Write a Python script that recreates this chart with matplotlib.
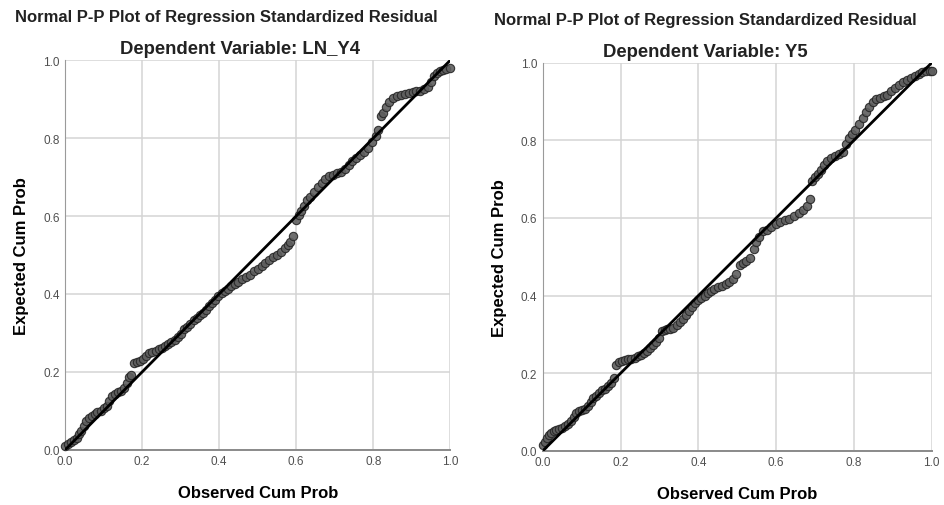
import matplotlib.pyplot as plt

plt.rcParams['font.family'] = ['Liberation Sans', 'DejaVu Sans']

# P-P plot values (observed, expected)
obs_y4 = [0.000, 0.008, 0.015, 0.022, 0.030, 0.036, 0.042, 0.048, 0.055, 0.062,
          0.070, 0.077, 0.084, 0.092, 0.100, 0.108, 0.115, 0.122, 0.130, 0.138,
          0.146, 0.153, 0.160, 0.165, 0.172, 0.178, 0.186, 0.194, 0.202, 0.210,
          0.218, 0.226, 0.235, 0.244, 0.252, 0.260, 0.268, 0.276, 0.284, 0.292,
          0.300, 0.308, 0.316, 0.325, 0.334, 0.342, 0.350, 0.358, 0.366, 0.374,
          0.382, 0.390, 0.398, 0.406, 0.414, 0.422, 0.430, 0.440, 0.450, 0.460,
          0.470, 0.480, 0.490, 0.500, 0.510, 0.520, 0.530, 0.540, 0.550, 0.560,
          0.570, 0.578, 0.585, 0.592, 0.600, 0.606, 0.612, 0.620, 0.628, 0.636,
          0.646, 0.656, 0.666, 0.676, 0.686, 0.696, 0.706, 0.716, 0.726, 0.736,
          0.746, 0.756, 0.766, 0.776, 0.786, 0.796, 0.806, 0.812, 0.820, 0.826,
          0.834, 0.842, 0.852, 0.862, 0.872, 0.882, 0.892, 0.902, 0.912, 0.922,
          0.932, 0.942, 0.950, 0.958, 0.966, 0.974, 0.982, 0.990, 1.000]
exp_y4 = [0.010, 0.015, 0.020, 0.025, 0.030, 0.040, 0.048, 0.060, 0.075, 0.082,
          0.088, 0.092, 0.097, 0.100, 0.108, 0.112, 0.125, 0.137, 0.143, 0.148,
          0.152, 0.160, 0.172, 0.188, 0.192, 0.222, 0.226, 0.228, 0.232, 0.240,
          0.248, 0.250, 0.253, 0.258, 0.262, 0.266, 0.272, 0.277, 0.282, 0.290,
          0.297, 0.310, 0.316, 0.324, 0.332, 0.338, 0.345, 0.352, 0.360, 0.368,
          0.376, 0.385, 0.395, 0.402, 0.408, 0.414, 0.420, 0.425, 0.430, 0.438,
          0.443, 0.448, 0.458, 0.465, 0.472, 0.480, 0.488, 0.494, 0.500, 0.508,
          0.518, 0.526, 0.534, 0.548, 0.590, 0.602, 0.614, 0.626, 0.640, 0.650,
          0.662, 0.674, 0.684, 0.694, 0.702, 0.706, 0.710, 0.714, 0.722, 0.732,
          0.742, 0.750, 0.758, 0.765, 0.775, 0.790, 0.805, 0.822, 0.858, 0.864,
          0.880, 0.894, 0.902, 0.908, 0.912, 0.914, 0.916, 0.918, 0.920, 0.922,
          0.926, 0.932, 0.945, 0.960, 0.968, 0.972, 0.975, 0.977, 0.980]

obs_y5 = [0.000, 0.005, 0.010, 0.016, 0.022, 0.028, 0.035, 0.042, 0.050, 0.058,
          0.065, 0.072, 0.080, 0.086, 0.093, 0.100, 0.108, 0.116, 0.124, 0.130,
          0.137, 0.144, 0.152, 0.160, 0.168, 0.175, 0.182, 0.188, 0.195, 0.203,
          0.212, 0.220, 0.228, 0.236, 0.244, 0.252, 0.260, 0.268, 0.276, 0.284,
          0.292, 0.300, 0.306, 0.313, 0.320, 0.328, 0.336, 0.344, 0.352, 0.360,
          0.368, 0.376, 0.384, 0.392, 0.400, 0.408, 0.416, 0.424, 0.432, 0.440,
          0.450, 0.460, 0.470, 0.480, 0.490, 0.498, 0.506, 0.514, 0.522, 0.532,
          0.542, 0.549, 0.556, 0.566, 0.576, 0.588, 0.600, 0.610, 0.622, 0.634,
          0.646, 0.658, 0.670, 0.680, 0.686, 0.692, 0.700, 0.708, 0.716, 0.724,
          0.732, 0.742, 0.752, 0.762, 0.772, 0.780, 0.788, 0.796, 0.804, 0.814,
          0.824, 0.832, 0.840, 0.848, 0.856, 0.866, 0.876, 0.886, 0.896, 0.906,
          0.916, 0.926, 0.936, 0.946, 0.956, 0.966, 0.976, 0.986, 0.995, 1.000]
exp_y5 = [0.014, 0.022, 0.032, 0.040, 0.046, 0.050, 0.054, 0.057, 0.060, 0.064,
          0.070, 0.078, 0.086, 0.098, 0.103, 0.105, 0.108, 0.115, 0.126, 0.135,
          0.142, 0.150, 0.156, 0.160, 0.166, 0.176, 0.188, 0.222, 0.228, 0.232,
          0.234, 0.236, 0.237, 0.240, 0.244, 0.248, 0.252, 0.258, 0.265, 0.272,
          0.280, 0.290, 0.308, 0.312, 0.313, 0.314, 0.316, 0.324, 0.332, 0.340,
          0.350, 0.360, 0.370, 0.380, 0.388, 0.394, 0.400, 0.406, 0.412, 0.418,
          0.422, 0.426, 0.430, 0.436, 0.443, 0.455, 0.478, 0.484, 0.490, 0.496,
          0.520, 0.538, 0.552, 0.566, 0.570, 0.578, 0.585, 0.590, 0.594, 0.598,
          0.604, 0.612, 0.620, 0.630, 0.650, 0.696, 0.705, 0.714, 0.724, 0.736,
          0.746, 0.754, 0.760, 0.764, 0.770, 0.790, 0.806, 0.816, 0.828, 0.842,
          0.858, 0.874, 0.886, 0.898, 0.906, 0.910, 0.914, 0.918, 0.926, 0.934,
          0.942, 0.950, 0.956, 0.962, 0.966, 0.972, 0.977, 0.980, 0.978, 0.980]

ticks = [0.0, 0.2, 0.4, 0.6, 0.8, 1.0]
tick_labels = ['0.0', '0.2', '0.4', '0.6', '0.8', '1.0']

title = 'Normal P-P Plot of Regression Standardized Residual'

# subtitle, data, axes rect, (title x, subtitle x), (title y, subtitle y)
panels = [
    ('Dependent Variable: LN_Y4', obs_y4, exp_y4, [0.069, 0.109, 0.408, 0.770],
     (0.240, 0.254), (0.966, 0.903)),
    ('Dependent Variable: Y5', obs_y5, exp_y5, [0.575, 0.107, 0.412, 0.767],
     (0.747, 0.747), (0.960, 0.897)),
]

fig = plt.figure(figsize=(9.44, 5.06), dpi=100)

for subtitle, obs, exp, rect, tx, ty in panels:
    ax = fig.add_axes(rect)
    ax.set_xlim(0, 1)
    ax.set_ylim(0, 1)
    ax.set_xticks(ticks)
    ax.set_yticks(ticks)
    ax.set_xticklabels(tick_labels)
    ax.set_yticklabels(tick_labels)
    ax.tick_params(length=0, labelsize=8.5, labelcolor='#505050', pad=4)
    ax.grid(True, color='#d4d4d4', lw=1.1)
    ax.set_axisbelow(True)
    for side in ['top', 'right']:
        ax.spines[side].set_visible(False)
    ax.spines['left'].set_color('#9a9a9a')
    ax.spines['bottom'].set_color('#8a8a8a')
    ax.spines['bottom'].set_linewidth(1.4)

    ax.scatter(obs, exp, s=36, facecolor='#5e5e5e', edgecolor='#262626',
               linewidth=0.8, alpha=0.9, zorder=3, clip_on=False)
    ax.plot([0, 1], [0, 1], color='black', lw=2, zorder=4)

    ax.set_xlabel('Observed Cum Prob', fontsize=12, fontweight='bold', labelpad=13)
    ax.set_ylabel('Expected Cum Prob', fontsize=12, fontweight='bold', labelpad=10)

    fig.text(tx[0], ty[0], title, ha='center', va='center',
             fontsize=12, fontweight='bold', color='#222222')
    fig.text(tx[1], ty[1], subtitle, ha='center', va='center',
             fontsize=13.3, fontweight='bold', color='#222222')

fig.savefig('out.png', dpi=100)
